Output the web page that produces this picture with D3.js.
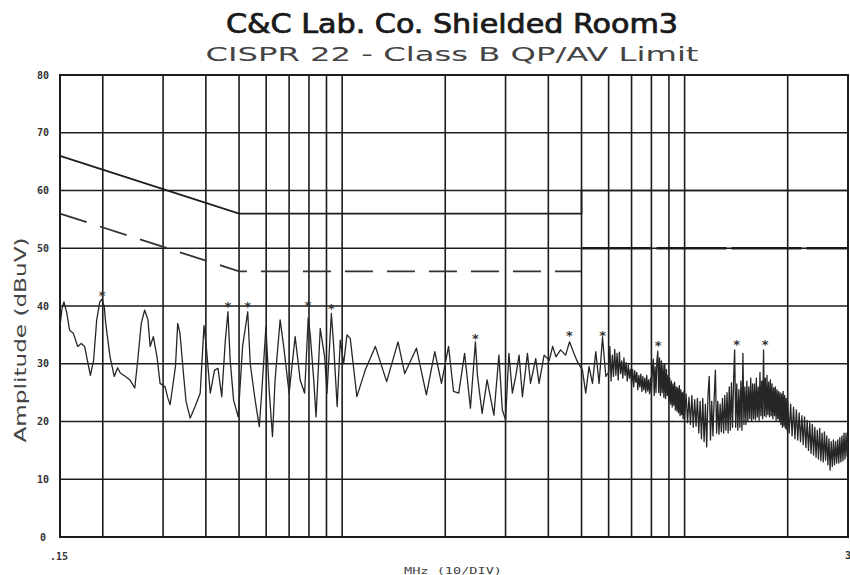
<!DOCTYPE html>
<html>
<head>
<meta charset="utf-8">
<script src="https://cdn.jsdelivr.net/npm/d3@7"></script>
<style>
  body { margin: 0; background: #fff; }
  svg { display: block; }
</style>
</head>
<body>
<script>
// scan data (MHz, dBuV)
var traceMHz = [0.150, 0.152, 0.154, 0.157, 0.160, 0.164, 0.169, 0.173, 0.177, 0.184, 0.188, 0.192, 0.196, 0.199, 0.202, 0.204,
  0.210, 0.216, 0.221, 0.225, 0.233, 0.240, 0.248, 0.253, 0.259, 0.265, 0.271, 0.275, 0.281, 0.288, 0.294, 0.304, 0.310, 0.3145,
  0.319, 0.326, 0.331, 0.336, 0.344, 0.350, 0.360, 0.372, 0.385, 0.395, 0.401, 0.412, 0.424, 0.434, 0.445, 0.456, 0.464, 0.471,
  0.482, 0.497, 0.512, 0.530, 0.539, 0.557, 0.573, 0.583, 0.599, 0.612, 0.626, 0.637, 0.659, 0.675, 0.700, 0.729, 0.754, 0.777,
  0.796, 0.807, 0.826, 0.839, 0.863, 0.889, 0.903, 0.930, 0.945, 0.967, 0.9875, 1.010, 1.033, 1.056, 1.104, 1.168, 1.250, 1.349,
  1.456, 1.523, 1.648, 1.762, 1.864, 1.950, 2.045, 2.115, 2.190, 2.278, 2.369, 2.450, 2.483, 2.563, 2.650, 2.774, 2.869, 2.936,
  3.000, 3.069, 3.141, 3.212, 3.286, 3.361, 3.476, 3.548, 3.675, 3.758, 3.888, 4.026, 4.118, 4.211, 4.342, 4.493, 4.614, 4.750,
  4.860, 5.030, 5.144, 5.260, 5.382, 5.503, 5.627, 5.758, 5.888,
  6.00, 6.05, 6.10, 6.15, 6.20, 6.25, 6.30, 6.35, 6.40, 6.45, 6.50, 6.55, 6.60, 6.65, 6.70, 6.75, 6.80, 6.85, 6.90, 6.95,
  7.00, 7.05, 7.10, 7.15, 7.20, 7.25, 7.30, 7.35, 7.40, 7.45, 7.50, 7.55, 7.60, 7.65, 7.70, 7.75, 7.80, 7.85, 7.90, 7.95,
  8.00, 8.05, 8.10, 8.15, 8.20, 8.25, 8.30, 8.35, 8.40, 8.45, 8.50, 8.55, 8.60, 8.65, 8.70, 8.75, 8.80, 8.85, 8.90, 8.95,
  9.00, 9.05, 9.10, 9.15, 9.20, 9.25, 9.30, 9.35, 9.40, 9.45, 9.50, 9.55, 9.60, 9.65, 9.70, 9.75, 9.80, 9.85, 9.90, 9.95,
  10.0, 10.1, 10.2, 10.3, 10.4, 10.5, 10.6, 10.7, 10.8, 10.9, 11.0, 11.1, 11.2, 11.3, 11.4, 11.5, 11.6, 11.7, 11.8, 11.9,
  12.0, 12.1, 12.2, 12.3, 12.4, 12.5, 12.6, 12.7, 12.8, 12.9, 13.0, 13.1, 13.2, 13.3, 13.4, 13.5, 13.6, 13.7, 13.8, 13.9,
  14.0, 14.1, 14.2, 14.3, 14.4, 14.5, 14.6, 14.7, 14.8, 14.9, 15.0, 15.1, 15.2, 15.3, 15.4, 15.5, 15.6, 15.7, 15.8, 15.9,
  16.0, 16.1, 16.2, 16.3, 16.4, 16.5, 16.6, 16.7, 16.8, 16.9, 17.0, 17.1, 17.2, 17.3, 17.4, 17.5, 17.6, 17.7, 17.8, 17.9,
  18.0, 18.1, 18.2, 18.3, 18.4, 18.5, 18.6, 18.7, 18.8, 18.9, 19.0, 19.1, 19.2, 19.3, 19.4, 19.5, 19.6, 19.7, 19.8, 19.9,
  20.0, 20.2, 20.4, 20.6, 20.8, 21.0, 21.2, 21.4, 21.6, 21.8, 22.0, 22.2, 22.4, 22.6, 22.8, 23.0, 23.2, 23.4, 23.6, 23.8,
  24.0, 24.2, 24.4, 24.6, 24.8, 25.0, 25.2, 25.4, 25.6, 25.8, 26.0, 26.2, 26.4, 26.6, 26.8, 27.0, 27.2, 27.4, 27.6, 27.8,
  28.0, 28.2, 28.4, 28.6, 28.8, 29.0, 29.2, 29.4, 29.6, 29.8, 30.0]

var traceDb = [36.5, 39.5, 40.7, 38.8, 35.8, 35.3, 33.0, 33.5, 33.0, 28.0, 30.6, 37.6, 40.7, 41.2, 39.9, 37.0,
  31.2, 27.8, 29.3, 28.4, 27.8, 27.2, 25.8, 30.6, 37.0, 39.3, 37.6, 33.0, 34.7, 31.2, 26.6, 26.0, 24.0, 22.9,
  25.5, 29.5, 37.0, 35.3, 28.3, 23.5, 20.6, 22.6, 24.9, 36.6, 33.0, 24.9, 28.9, 29.2, 24.3, 34.1, 39.0, 30.6,
  23.7, 20.8, 33.0, 39.0, 30.0, 23.7, 19.1, 25.5, 36.4, 25.5, 17.4, 27.2, 37.6, 33.0, 24.9, 34.7, 27.2, 24.9,
  38.0, 35.0, 27.2, 20.8, 36.1, 31.2, 24.9, 38.7, 33.0, 22.6, 34.1, 30.0, 35.0, 34.4, 24.3, 28.9, 33.0, 26.9,
  33.8, 28.3, 32.7, 24.6, 32.1, 26.6, 33.0, 25.2, 24.9, 31.8, 22.3, 33.8, 28.0, 21.4, 27.2, 21.1, 31.5, 22.0,
  20.3, 31.8, 24.9, 27.8, 31.5, 24.3, 31.8, 26.6, 30.9, 26.6, 31.5, 30.6, 33.0, 31.2, 32.4, 31.5, 33.8, 31.8,
  30.4, 28.9, 24.9, 29.5, 26.6, 32.1, 26.6, 34.6, 27.8,
  28.5, 33.0, 27.0, 31.5, 27.8, 32.5, 28.0, 31.8, 27.2, 32.0, 28.3, 30.5, 27.5, 31.0, 28.0, 30.2, 27.0, 29.8, 27.5, 29.0,
  26.5, 29.0, 26.0, 28.8, 26.8, 28.5, 25.5, 28.0, 26.0, 28.2, 25.2, 27.8, 25.5, 27.5, 25.0, 28.0, 25.3, 27.2, 24.8, 27.5,
  25.0, 29.0, 30.8, 24.5, 29.5, 25.0, 30.5, 32.2, 25.0, 31.0, 24.5, 30.5, 25.0, 29.8, 24.2, 30.0, 24.0, 29.0, 24.5, 28.0,
  23.5, 27.5, 23.0, 27.0, 22.5, 26.5, 22.8, 26.8, 22.0, 26.0, 21.8, 25.8, 21.5, 26.2, 21.0, 25.5, 21.2, 25.0, 20.5, 25.2,
  20.5, 24.8, 19.8, 24.2, 19.5, 24.5, 19.0, 23.8, 19.2, 24.0, 18.0, 23.5, 17.0, 24.0, 16.5, 23.0, 15.6, 24.5, 27.8, 16.8,
  23.5, 17.5, 24.0, 28.9, 18.0, 23.5, 17.8, 23.0, 18.2, 24.0, 18.0, 24.5, 18.5, 25.0, 18.0, 26.0, 18.5, 26.7, 19.0, 27.0,
  32.4, 19.0, 26.5, 18.5, 25.5, 19.0, 27.0, 18.5, 31.8, 19.5, 26.0, 19.5, 27.0, 20.0, 26.0, 20.5, 27.5, 20.0, 26.5, 20.5,
  26.5, 20.3, 27.5, 20.8, 26.0, 20.2, 28.5, 21.0, 27.0, 20.5, 32.4, 21.0, 27.5, 20.8, 28.0, 21.2, 26.8, 20.8, 27.2, 21.0,
  26.5, 20.5, 25.8, 21.0, 26.0, 20.2, 25.5, 20.5, 25.2, 20.0, 25.0, 19.5, 24.8, 19.0, 25.2, 19.2, 24.5, 18.8, 24.0, 18.5,
  23.5, 18.0, 23.0, 17.5, 22.5, 17.0, 22.0, 16.8, 21.5, 16.5, 21.0, 16.0, 20.8, 15.5, 20.2, 15.0, 19.8, 14.5, 19.5, 14.2,
  19.0, 13.8, 18.5, 13.5, 18.8, 13.2, 18.0, 13.0, 18.2, 13.3, 17.5, 12.5, 17.0, 11.6, 16.5, 12.2, 16.8, 12.5, 16.5, 12.8,
  16.8, 12.8, 17.2, 13.0, 17.5, 13.2, 18.0, 13.5, 18.0, 14.0, 17.5]

// peak markers
var markerMHz = [0.199, 0.464, 0.530, 0.796, 0.930, 2.45, 4.61, 5.76, 8.37, 14.2, 17.2]
var markerDb = [42.3, 40.4, 40.4, 40.6, 40.0, 34.8, 35.3, 35.3, 33.6, 33.8, 33.8]

// CISPR 22 class B limits
var qpMHz = [0.15, 0.5, 0.5, 5, 5, 30]
var qpDb = [66, 56, 56, 56, 60, 60]
var avMHz = [0.15, 0.5, 0.5, 5]
var avDb = [56, 46, 46, 46]
var avHighMHz = [5, 30]
var avHighDb = [50, 50]

var gridMHz = [0.2, 0.3, 0.4, 0.5, 0.6, 0.7, 0.8, 0.9, 1, 2, 3, 4, 5, 6, 7, 8, 9, 10, 20]
var yTicks = [0, 10, 20, 30, 40, 50, 60, 70, 80]

var width = 850
var height = 575
var plot = { left: 60, right: 848, top: 75, bottom: 537 }

var svg = d3.select('body').append('svg')
  .attr('width', width)
  .attr('height', height)

var x = d3.scaleLog().domain([0.15, 30]).range([plot.left, plot.right])
var y = d3.scaleLinear().domain([0, 80]).range([plot.bottom, plot.top])

var ink = '#1c1c1c'

// grid
svg.append('g')
  .selectAll('line')
  .data(gridMHz)
  .join('line')
  .attr('x1', function (d) { return x(d) })
  .attr('x2', function (d) { return x(d) })
  .attr('y1', plot.top)
  .attr('y2', plot.bottom)
  .attr('stroke', ink)
  .attr('stroke-width', 1.6)

svg.append('g')
  .selectAll('line')
  .data(yTicks)
  .join('line')
  .attr('x1', plot.left)
  .attr('x2', plot.right)
  .attr('y1', function (d) { return y(d) })
  .attr('y2', function (d) { return y(d) })
  .attr('stroke', ink)
  .attr('stroke-width', 1.6)

svg.append('rect')
  .attr('x', plot.left)
  .attr('y', plot.top)
  .attr('width', plot.right - plot.left)
  .attr('height', plot.bottom - plot.top)
  .attr('fill', 'none')
  .attr('stroke', ink)
  .attr('stroke-width', 2)

// y tick labels
svg.append('g')
  .selectAll('text')
  .data(yTicks)
  .join('text')
  .attr('x', 43)
  .attr('y', function (d) { return y(d) + 3.5 })
  .attr('text-anchor', 'middle')
  .attr('font-family', 'DejaVu Sans Mono')
  .attr('font-weight', 'bold')
  .attr('font-size', 10)
  .attr('fill', '#333')
  .text(function (d) { return d })

// limits
var line = d3.line()
  .x(function (d) { return x(d[0]) })
  .y(function (d) { return y(d[1]) })

svg.append('path')
  .attr('d', line(d3.zip(qpMHz, qpDb)))
  .attr('fill', 'none')
  .attr('stroke', ink)
  .attr('stroke-width', 1.7)

svg.append('path')
  .attr('d', line(d3.zip(avMHz, avDb)))
  .attr('fill', 'none')
  .attr('stroke', '#333')
  .attr('stroke-width', 1.8)
  .attr('stroke-dasharray', '28,14')

svg.append('path')
  .attr('d', line(d3.zip(avHighMHz, avHighDb)))
  .attr('fill', 'none')
  .attr('stroke', ink)
  .attr('stroke-width', 2.6)
  .attr('stroke-dasharray', '70,5')

// trace
svg.append('path')
  .attr('d', line(d3.zip(traceMHz, traceDb)))
  .attr('fill', 'none')
  .attr('stroke', '#262626')
  .attr('stroke-width', 1.3)
  .attr('stroke-linejoin', 'round')

// markers
svg.append('g')
  .selectAll('text')
  .data(d3.zip(markerMHz, markerDb))
  .join('text')
  .attr('x', function (d) { return x(d[0]) })
  .attr('y', function (d) { return y(d[1]) + 7 })
  .attr('text-anchor', 'middle')
  .attr('font-family', 'DejaVu Sans Mono')
  .attr('font-weight', 'bold')
  .attr('font-size', 13)
  .attr('fill', '#333')
  .text('*')

// titles
svg.append('text')
  .attr('x', 452)
  .attr('y', 33)
  .attr('text-anchor', 'middle')
  .attr('font-family', 'DejaVu Sans Condensed, DejaVu Sans')
  .attr('font-size', 26)
  .attr('textLength', 452)
  .attr('lengthAdjust', 'spacingAndGlyphs')
  .attr('fill', '#1a1a1a')
  .attr('stroke', '#1a1a1a')
  .attr('stroke-width', 0.7)
  .text('C&C Lab. Co. Shielded Room3')

svg.append('text')
  .attr('x', 452)
  .attr('y', 61)
  .attr('text-anchor', 'middle')
  .attr('font-family', 'DejaVu Sans')
  .attr('font-size', 19)
  .attr('textLength', 493)
  .attr('lengthAdjust', 'spacingAndGlyphs')
  .attr('fill', '#444')
  .text('CISPR 22 - Class B QP/AV  Limit')

svg.append('text')
  .attr('transform', 'translate(26,340) rotate(-90)')
  .attr('text-anchor', 'middle')
  .attr('font-family', 'DejaVu Sans')
  .attr('font-size', 16)
  .attr('textLength', 205)
  .attr('lengthAdjust', 'spacingAndGlyphs')
  .attr('fill', '#444')
  .text('Amplitude (dBuV)')

svg.append('text')
  .attr('x', 59)
  .attr('y', 560)
  .attr('text-anchor', 'middle')
  .attr('font-family', 'DejaVu Sans Mono')
  .attr('font-weight', 'bold')
  .attr('font-size', 10)
  .attr('fill', '#333')
  .text('.15')

svg.append('text')
  .attr('x', 845)
  .attr('y', 559)
  .attr('text-anchor', 'start')
  .attr('font-family', 'DejaVu Sans Mono')
  .attr('font-weight', 'bold')
  .attr('font-size', 10)
  .attr('fill', '#333')
  .text('30')

svg.append('text')
  .attr('x', 453)
  .attr('y', 574)
  .attr('text-anchor', 'middle')
  .attr('font-family', 'DejaVu Sans Mono')
  .attr('font-size', 9)
  .attr('textLength', 98)
  .attr('lengthAdjust', 'spacingAndGlyphs')
  .attr('fill', '#444')
  .text('MHz (10/DIV)')
</script>
</body>
</html>
